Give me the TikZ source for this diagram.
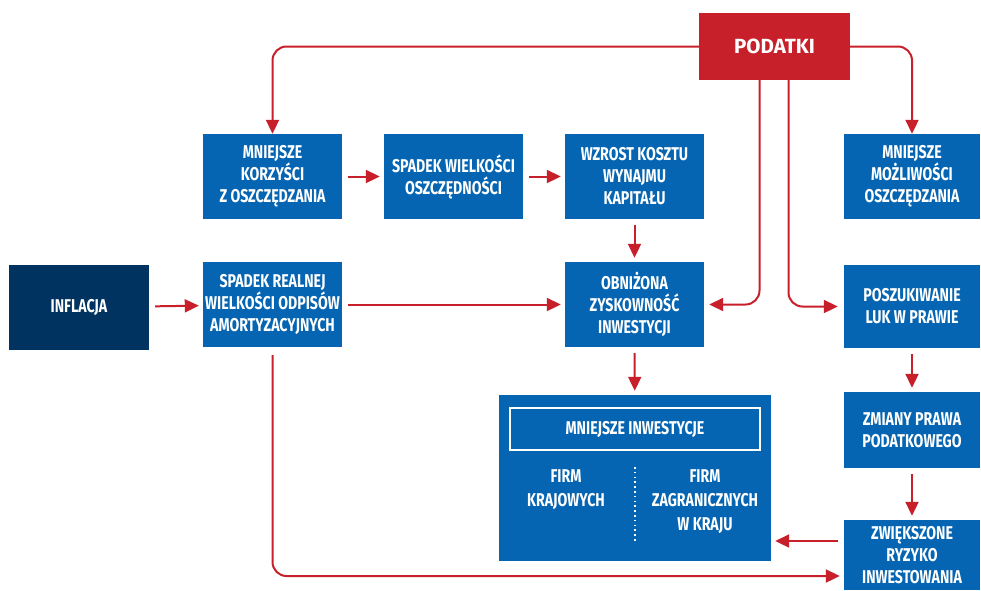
\documentclass[tikz,border=0pt]{standalone}
\usepackage{fontspec}
\setmainfont{Fira Sans}
\newfontfamily\condfont[FakeStretch=0.765]{Fira Sans}
\usetikzlibrary{arrows.meta}
\definecolor{boxblue}{HTML}{0565B2}
\definecolor{navy}{HTML}{00335F}
\definecolor{arrred}{HTML}{C8202A}
\begin{document}
\begin{tikzpicture}[x=1pt,y=-1pt,
  box/.style={fill=boxblue, text=white, align=center, inner sep=0pt,
    font=\condfont\bfseries\fontsize{18.5}{22}\selectfont},
  wtext/.style={text=white, align=center, inner sep=0pt,
    font=\condfont\bfseries\fontsize{18.5}{24}\selectfont},
  arr/.style={draw=arrred, line width=2pt, -{Triangle[length=14pt,width=13pt]}, rounded corners=14pt},
  sarr/.style={arr, shorten <=6pt, shorten >=4pt}
]
\useasboundingbox (0,0) rectangle (981,590);
% nodes
\node[fill=arrred, text=white, minimum width=151pt, minimum height=67pt, inner sep=0pt,
  font=\bfseries\fontsize{20.5}{24}\selectfont] (pod) at (774.5,46.5) {PODATKI};
\node[box, minimum width=139pt, minimum height=85pt] (kor) at (272.5,176.5) {MNIEJSZE\\KORZYŚCI\\Z OSZCZĘDZANIA};
\node[box, minimum width=139pt, minimum height=85pt] (spw) at (453.5,176.5) {SPADEK WIELKOŚCI\\OSZCZĘDNOŚCI};
\node[box, minimum width=139pt, minimum height=85pt] (wzr) at (634.5,176.5) {WZROST KOSZTU\\WYNAJMU\\KAPITAŁU};
\node[box, minimum width=136pt, minimum height=85pt] (mmo) at (912,176.5) {MNIEJSZE\\MOŻLIWOŚCI\\OSZCZĘDZANIA};
\node[box, fill=navy, minimum width=140pt, minimum height=85pt] (inf) at (79,307.5) {INFLACJA};
\node[box, minimum width=139pt, minimum height=85pt] (srl) at (272.5,304.5) {SPADEK REALNEJ\\WIELKOŚCI ODPISÓW\\AMORTYZACYJNYCH};
\node[box, minimum width=139pt, minimum height=85pt] (obn) at (634.5,304.5) {OBNIŻONA\\ZYSKOWNOŚĆ\\INWESTYCJI};
\node[box, minimum width=136pt, minimum height=83pt] (pos) at (912,306.5) {POSZUKIWANIE\\LUK W PRAWIE};
\node[box, minimum width=272pt, minimum height=166pt] (inw) at (635,478) {};
\node[wtext, draw=white, line width=1.2pt, minimum width=250pt, minimum height=42pt] (inwt) at (635,429) {MNIEJSZE INWESTYCJE};
\node[wtext] (fk) at (566,490) {FIRM\\KRAJOWYCH};
\node[wtext] (fz) at (705,502) {FIRM\\ZAGRANICZNYCH\\W KRAJU};
\coordinate (dtop) at (635,467);
\coordinate (dbot) at (635,542);
\draw[white, line width=1.6pt, dash pattern=on 1.6pt off 3.2pt] (dtop) -- (dbot);
\node[box, minimum width=136pt, minimum height=76pt] (zmi) at (912,430) {ZMIANY PRAWA\\PODATKOWEGO};
\node[box, minimum width=136pt, minimum height=70pt] (zwi) at (912,555) {ZWIĘKSZONE\\RYZYKO\\INWESTOWANIA};
% connectors
\draw[arr] (pod.west) -| (kor.north);
\draw[arr] (pod.east) -| (mmo.north);
\coordinate (pl) at ([xshift=-15pt]pod.south);
\coordinate (pr) at ([xshift=14pt]pod.south);
\draw[arr, shorten >=5pt] (pl) |- (obn.east);
\draw[arr, shorten >=6pt] (pr) |- (pos.west);
\draw[sarr] (kor) -- (spw);
\draw[sarr] (spw) -- (wzr);
\draw[sarr] (wzr) -- (obn);
\draw[sarr] (inf) -- (srl);
\draw[sarr] (srl) -- (obn);
\draw[sarr] (obn) -- (inw);
\draw[sarr] (pos) -- (zmi);
\draw[sarr] (zmi) -- (zwi);
\coordinate (zin) at ([yshift=14pt]zwi.west);
\coordinate (zlow) at ([yshift=-21pt]zwi.west);
\draw[sarr] (zin) -- (zin -| inw.east);
\draw[arr, shorten <=8pt, shorten >=4pt] (srl.south) |- (zlow);
\end{tikzpicture}
\end{document}
